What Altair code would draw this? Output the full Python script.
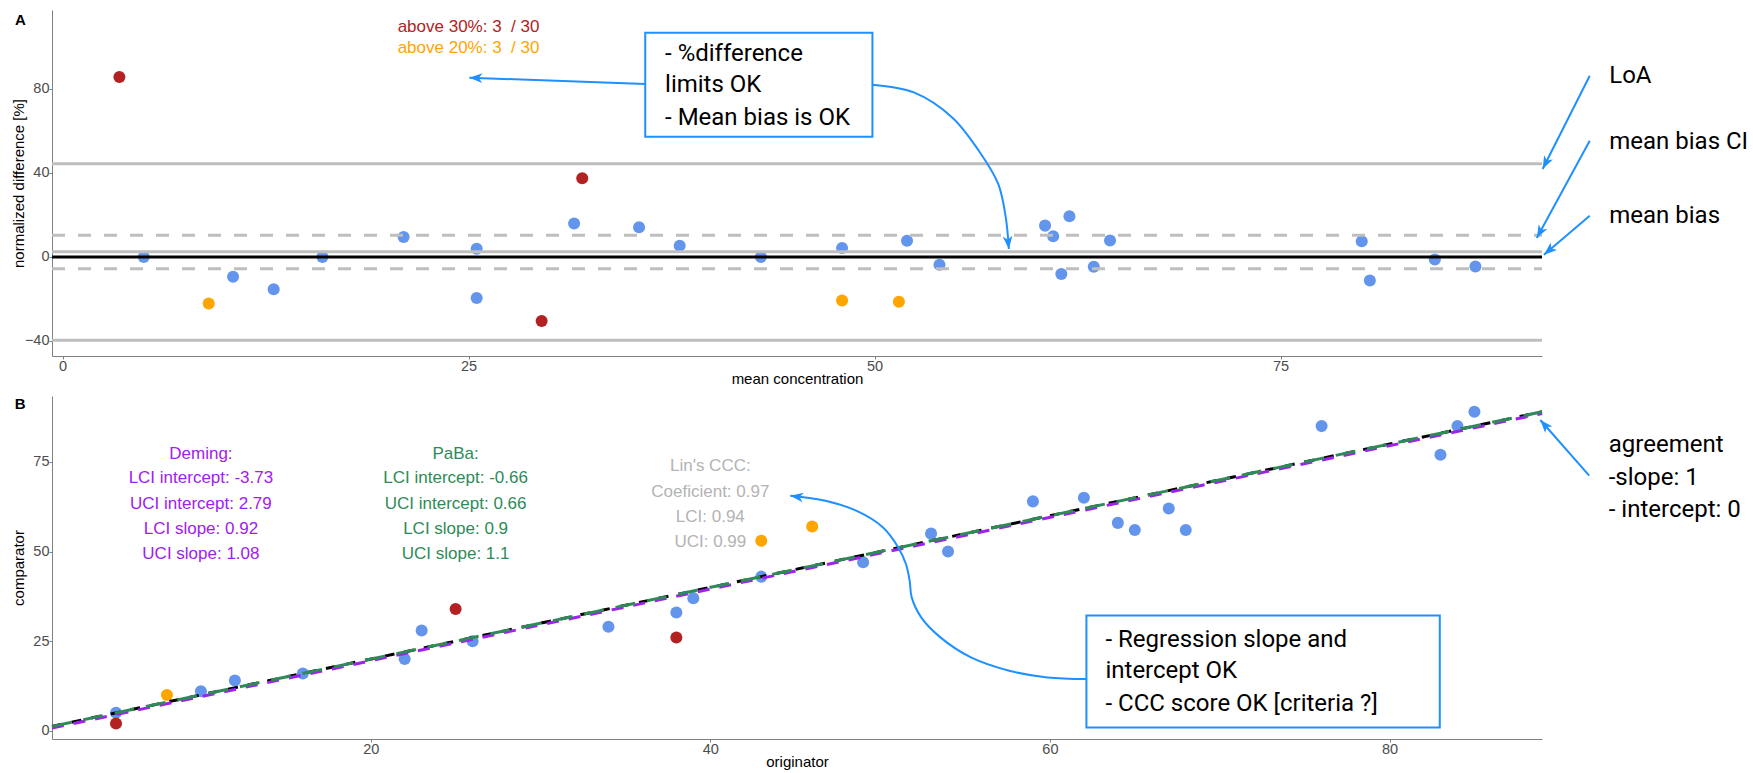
import altair as alt
import pandas as pd

# ---------------- values ----------------
originator = [5, 5, 8, 10, 12, 16, 22, 23, 25, 26, 34, 38, 38, 39, 43, 43, 46, 49, 53, 54,
              59, 62, 64, 65, 67, 68, 76, 83, 84, 85]
comparator = [5, 2, 10, 11, 14, 16, 20, 28, 34, 25, 29, 33, 26, 37, 43, 53, 57, 47, 55, 50,
              64, 65, 58, 56, 62, 56, 85, 77, 85, 89]
S0, S20, S30 = "within 20%", "above 20%", "above 30%"
status = [S0, S30, S20, S0, S0, S0, S0, S0, S30, S0, S0, S0, S30, S0, S0, S20, S20, S0, S0, S0,
          S0, S0, S0, S0, S0, S0, S0, S0, S0, S0]
mean_conc = [5.0, 3.5, 9.0, 10.5, 13.0, 16.0, 21.0, 25.5, 29.5, 25.5, 31.5, 35.5, 32.0, 38.0, 43.0,
             48.0, 51.5, 48.0, 54.0, 52.0, 61.5, 63.5, 61.0, 60.5, 64.5, 62.0, 80.5, 80.0, 84.5, 87.0]
norm_diff = [0.0, 85.7, -22.2, -9.5, -15.4, 0.0, 9.5, -19.6, -30.5, 3.9, 15.9, 14.1, 37.5, 5.3, 0.0,
             -20.8, -21.4, 4.2, -3.7, 7.7, -8.1, -4.7, 9.8, 14.9, 7.8, 19.4, -11.2, 7.5, -1.2, -4.6]

status_names = [S0, S20, S30]
status_colors = ["#6495ED", "#FFA500", "#B22222"]

loa_values = [-39.7, 44.4]
bias_ci_values = [-5.6, 10.3]
mean_bias_value = 2.4
zero_value = 0.0

reg_names = ["agreement", "Deming", "PaBa"]
reg_intercepts = [0.0, -0.47, 0.0]
reg_slopes = [1.0, 1.0, 1.0]

A_x_ticks = [0, 25, 50, 75]
A_y_ticks = [-40, 0, 40, 80]
B_x_ticks = [20, 40, 60, 80]
B_y_ticks = [0, 25, 50, 75]
A_x_domain = [-0.65, 91.1]
A_y_domain = [-47.2, 117.6]
B_x_domain = [1.23, 88.98]
B_y_domain = [-2.3, 93.4]

# annotations, panel A (data units)
count_text = ["above 30%: 3 \u00a0/ 30", "above 20%: 3 \u00a0/ 30"]
count_col = ["#B22222", "#FFA500"]
count_x = [25.0, 25.0]
count_y = [106.9, 97.1]
box1_x = [35.88, 49.87]
box1_y = [57.25, 106.79]
box1_text = ["- %difference", "limits OK", "- Mean bias is OK"]
box1_tx = 37.1
box1_ty = [93.45, 78.35, 62.97]
sideA_text = ["LoA", "mean bias CI", "mean bias"]
sideA_tx = 95.24
sideA_ty = [82.64, 51.39, 15.96]
arrowsA = {
    "a1": [(35.88, 82.35), (25.05, 85.35)],
    "a2": [(49.87, 82.02), (52.42, 78.35), (54.78, 66.44), (56.42, 50.58), (57.61, 34.87),
           (58.08, 18.81), (58.27, 3.76)],
    "loa": [(94.04, 86.31), (91.14, 41.87)],
    "ci": [(94.04, 55.35), (90.78, 9.0)],
    "mb": [(94.04, 19.62), (91.22, 1.05)],
}
headsA = [(25.05, 85.35, 272.1), (58.27, 3.76, 174.4), (91.14, 41.87, 206.8),
          (90.78, 9.0, 208.5), (91.22, 1.05, 229.6)]

# annotations, panel B (data units)
deming_text = ["Deming:", "LCI intercept: -3.73", "UCI intercept: 2.79", "LCI slope: 0.92", "UCI slope: 1.08"]
paba_text = ["PaBa:", "LCI intercept: -0.66", "UCI intercept: 0.66", "LCI slope: 0.9", "UCI slope: 1.1"]
stats_ty = [75.8, 69.0, 61.95, 54.9, 47.8]
ccc_text = ["Lin's CCC:", "Coeficient: 0.97", "LCI: 0.94", "UCI: 0.99"]
ccc_ty = [72.36, 65.3, 58.24, 51.16]
box2_x = [62.15, 82.96]
box2_y = [0.93, 32.18]
box2_text = ["- Regression slope and", "intercept OK", "- CCC score OK [criteria ?]"]
box2_tx = 63.27
box2_ty = [23.25, 14.61, 5.59]
agree_text = ["agreement", "-slope: 1", "- intercept: 0"]
agree_tx = 92.91
agree_ty = [77.66, 68.65, 59.72]
arrowsB = {
    "c": [(62.15, 14.44), (59.85, 14.88), (57.6, 16.75), (55.35, 20.46), (53.55, 26.05),
          (52.42, 31.63), (51.86, 37.21), (51.74, 41.87), (51.52, 46.52), (51.07, 51.16),
          (50.17, 56.74), (48.59, 61.4), (46.78, 64.19), (44.71, 65.58)],
    "ag": [(91.76, 71.16), (88.88, 86.7)],
}
headsB = [(44.71, 65.58, 278.1), (88.88, 86.7, 318.8)]

# ---------------- styling ----------------
FONT = "Liberation Sans, Arial, Helvetica, sans-serif"
NOTE_FONT = "Roboto, Liberation Sans, sans-serif"
BLUE = "#1E90FF"
ARROW = "M0,0 L0.75,2 L0,1.45 L-0.75,2 Z"


def axis(**kw):
    base = dict(grid=False, domainColor="#808080", domainWidth=1, tickColor="#808080",
                tickSize=3, tickWidth=1, labelColor="#4d4d4d", labelFont=FONT,
                labelFontSize=14.5, labelPadding=0, titleFont=FONT, titleFontSize=15,
                titleFontWeight="normal", titleColor="black")
    base.update(kw)
    return alt.Axis(**base)


def encs(xdom, ydom, xax, yax):
    X = alt.X("x:Q", scale=alt.Scale(domain=xdom, nice=False, zero=False), axis=xax)
    Y = alt.Y("y:Q", scale=alt.Scale(domain=ydom, nice=False, zero=False), axis=yax)
    return X, Y


def texts(X, Y, t, xs, ys, cols, font, size, align, weight="normal"):
    df = pd.DataFrame({"x": xs, "y": ys, "t": t, "c": cols})
    return alt.Chart(df).mark_text(font=font, fontSize=size, align=align, baseline="alphabetic",
                                   fontWeight=weight).encode(
        x=X, y=Y, text="t:N", color=alt.Color("c:N", scale=None))


def arrows(X, Y, paths, heads):
    rows = []
    for k, pts in paths.items():
        for i, (px, py) in enumerate(pts):
            rows.append({"id": k, "o": i, "x": px, "y": py})
    lines = alt.Chart(pd.DataFrame(rows)).mark_line(
        color=BLUE, strokeWidth=2, interpolate="catmull-rom").encode(
        x=X, y=Y, detail="id:N", order="o:Q")
    hd = pd.DataFrame(heads, columns=["x", "y", "a"])
    hl = alt.Chart(hd).mark_point(shape=ARROW, filled=True, size=169, color=BLUE, opacity=1,
                                  strokeWidth=0).encode(
        x=X, y=Y, angle=alt.Angle("a:Q", scale=None))
    return [lines, hl]


def box(X, Y, xs, ys):
    df = pd.DataFrame({"x": [xs[0]], "x2": [xs[1]], "y": [ys[0]], "y2": [ys[1]]})
    return alt.Chart(df).mark_rect(fill="white", stroke=BLUE, strokeWidth=2).encode(
        x=X, x2=alt.X2("x2"), y=Y, y2=alt.Y2("y2"))


color_enc = alt.Color("s:N", scale=alt.Scale(domain=status_names, range=status_colors), legend=None)

# ---------------- panel A ----------------
XA, YA = encs(A_x_domain, A_y_domain,
              axis(title="mean concentration", values=A_x_ticks, titlePadding=-1.5),
              axis(title="normalized difference [%]", values=A_y_ticks, titleX=-34,
                   titleBaseline="middle"))

ptsA = alt.Chart(pd.DataFrame({"x": mean_conc, "y": norm_diff, "s": status})).mark_circle(
    size=145, opacity=1).encode(x=XA, y=YA, color=color_enc)


def hrule(vals, **mk):
    df = pd.DataFrame({"x": [A_x_domain[0]] * len(vals), "x2": [A_x_domain[1]] * len(vals), "y": vals})
    return alt.Chart(df).mark_rule(**mk).encode(x=XA, x2=alt.X2("x2"), y=YA)


layersA = [
    ptsA,
    hrule(loa_values, color="#BEBEBE", strokeWidth=3),
    hrule([mean_bias_value], color="#BEBEBE", strokeWidth=3),
    hrule(bias_ci_values, color="#BEBEBE", strokeWidth=3, strokeDash=[13, 13]),
    hrule([zero_value], color="black", strokeWidth=3),
    texts(XA, YA, count_text, count_x, count_y, count_col, FONT, 17, "center"),
    box(XA, YA, box1_x, box1_y),
    texts(XA, YA, box1_text, [box1_tx] * 3, box1_ty, ["black"] * 3, NOTE_FONT, 24, "left"),
    *arrows(XA, YA, arrowsA, headsA),
    texts(XA, YA, sideA_text, [sideA_tx] * 3, sideA_ty, ["black"] * 3, NOTE_FONT, 24, "left"),
    texts(XA, YA, ["A"], [-2.6], [110.6], ["black"], FONT, 15, "center", "bold"),
]
top = alt.layer(*layersA).properties(width=1490, height=346)

# ---------------- panel B ----------------
XB, YB = encs(B_x_domain, B_y_domain,
              axis(title="originator", values=B_x_ticks, titlePadding=-1.5),
              axis(title="comparator", values=B_y_ticks, titleX=-34, titleBaseline="middle"))

ptsB = alt.Chart(pd.DataFrame({"x": originator, "y": comparator, "s": status})).mark_circle(
    size=145, opacity=1).encode(x=XB, y=YB, color=color_enc)


def regline(i, color, dash):
    xs = B_x_domain
    ys = [reg_intercepts[i] + reg_slopes[i] * v for v in xs]
    return alt.Chart(pd.DataFrame({"x": xs, "y": ys})).mark_line(
        color=color, strokeWidth=3, strokeDash=dash).encode(x=XB, y=YB)


layersB = [
    ptsB,
    regline(0, "black", [10, 10]),
    regline(1, "#A020F0", [12, 10]),
    regline(2, "#2E8B57", [20, 12]),
    texts(XB, YB, deming_text, [10.0] * 5, stats_ty, ["#A020F0"] * 5, FONT, 17, "center"),
    texts(XB, YB, paba_text, [25.0] * 5, stats_ty, ["#2E8B57"] * 5, FONT, 17, "center"),
    texts(XB, YB, ccc_text, [40.0] * 4, ccc_ty, ["#B3B3B3"] * 4, FONT, 17, "center"),
    *arrows(XB, YB, arrowsB, headsB),
    box(XB, YB, box2_x, box2_y),
    texts(XB, YB, box2_text, [box2_tx] * 3, box2_ty, ["black"] * 3, NOTE_FONT, 24, "left"),
    texts(XB, YB, agree_text, [agree_tx] * 3, agree_ty, ["black"] * 3, NOTE_FONT, 24, "left"),
    texts(XB, YB, ["B"], [-0.64], [89.77], ["black"], FONT, 15, "center", "bold"),
]
bottom = alt.layer(*layersB).properties(width=1490, height=343)

chart = alt.vconcat(top, bottom, spacing=8).properties(
    padding={"left": 10, "top": 9, "right": 0, "bottom": 0},
    background="white",
).configure_view(stroke="transparent")

chart.save("out.html", embed_options={"renderer": "svg", "actions": False})
